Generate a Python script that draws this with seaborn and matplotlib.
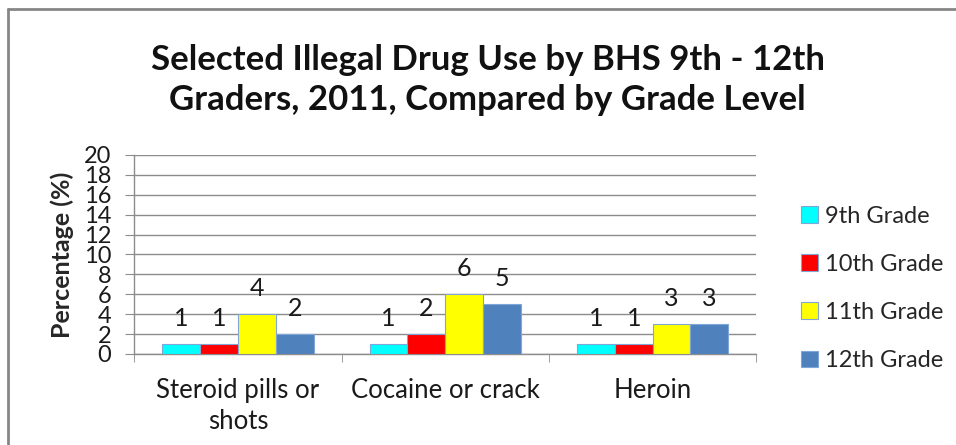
import pandas as pd
import numpy as np
import matplotlib.pyplot as plt
from matplotlib.lines import Line2D
import seaborn as sns

drugs = ['Steroid pills or\nshots', 'Cocaine or crack', 'Heroin']
grades = ['9th Grade', '10th Grade', '11th Grade', '12th Grade']
grade_9 = [1, 1, 1]
grade_10 = [1, 2, 1]
grade_11 = [4, 6, 3]
grade_12 = [2, 5, 3]
colors = ['#00FFFF', '#FF0000', '#FFFF00', '#4F81BD']

sns.set_style('white')
plt.rcParams['font.family'] = ['Lato', 'DejaVu Sans']

rows = []
for grade, vals in zip(grades, [grade_9, grade_10, grade_11, grade_12]):
    for drug, v in zip(drugs, vals):
        rows.append({'Drug': drug, 'Grade': grade, 'Percentage': v})
df = pd.DataFrame(rows)

fig = plt.figure(figsize=(9.56, 4.45), dpi=100)
ax = fig.add_axes([0.1405, 0.2045, 0.6506, 0.4475])

sns.barplot(data=df, x='Drug', y='Percentage', hue='Grade', order=drugs,
            hue_order=grades, palette=colors, saturation=1, width=0.73,
            edgecolor='#7FA6D6', linewidth=0.8, ax=ax, zorder=3)

for cont in ax.containers:
    ax.bar_label(cont, fmt='%g', padding=10, fontsize=18, color='#1a1a1a')

ax.set_ylim(0, 20)
ax.set_xlim(-0.5, 2.5)
ax.set_yticks(np.arange(0, 21, 2))
ax.yaxis.grid(True, color='#8C8C8C', linewidth=1, zorder=0)
ax.set_axisbelow(True)
for s in ['top', 'right']:
    ax.spines[s].set_visible(False)
for s in ['left', 'bottom']:
    ax.spines[s].set_color('#8C8C8C')
    ax.spines[s].set_linewidth(1)

ax.tick_params(axis='y', which='major', left=True, length=6.5, color='#8C8C8C',
               labelsize=17, labelcolor='#1a1a1a', pad=10)
ax.set_yticklabels([str(t) for t in range(0, 21, 2)], linespacing=1)
ax.tick_params(axis='x', which='major', bottom=False, labelsize=18.5,
               labelcolor='#1a1a1a', pad=14)
ax.set_xticks([-0.5, 0.5, 1.5, 2.5], minor=True)
ax.tick_params(axis='x', which='minor', bottom=True, length=6, color='#8C8C8C')
for lbl in ax.get_xticklabels():
    lbl.set_linespacing(1.3)

ax.set_xlabel('')
ax.set_ylabel('Percentage (%)', fontsize=18, fontweight='bold', labelpad=7)

fig.text(0.51, 0.82,
         'Selected Illegal Drug Use by BHS 9th - 12th\nGraders, 2011, Compared by Grade Level',
         ha='center', va='center', fontsize=25, fontweight='bold',
         linespacing=1.3, color='#111111')

handles, labels = ax.get_legend_handles_labels()
ax.legend(handles, labels, loc='center left', bbox_to_anchor=(0.816, 0.352),
          bbox_transform=fig.transFigure, frameon=False, fontsize=17,
          handlelength=0.7, handleheight=0.7, handletextpad=0.3,
          labelspacing=1.15)

# chart border (top and left visible)
fig.add_artist(Line2D([0.0085, 1.0], [0.98, 0.98], transform=fig.transFigure,
                      color='#868686', linewidth=2))
fig.add_artist(Line2D([0.0085, 0.0085], [0.0, 0.98], transform=fig.transFigure,
                      color='#868686', linewidth=2))

fig.savefig('out.png', dpi=100)
